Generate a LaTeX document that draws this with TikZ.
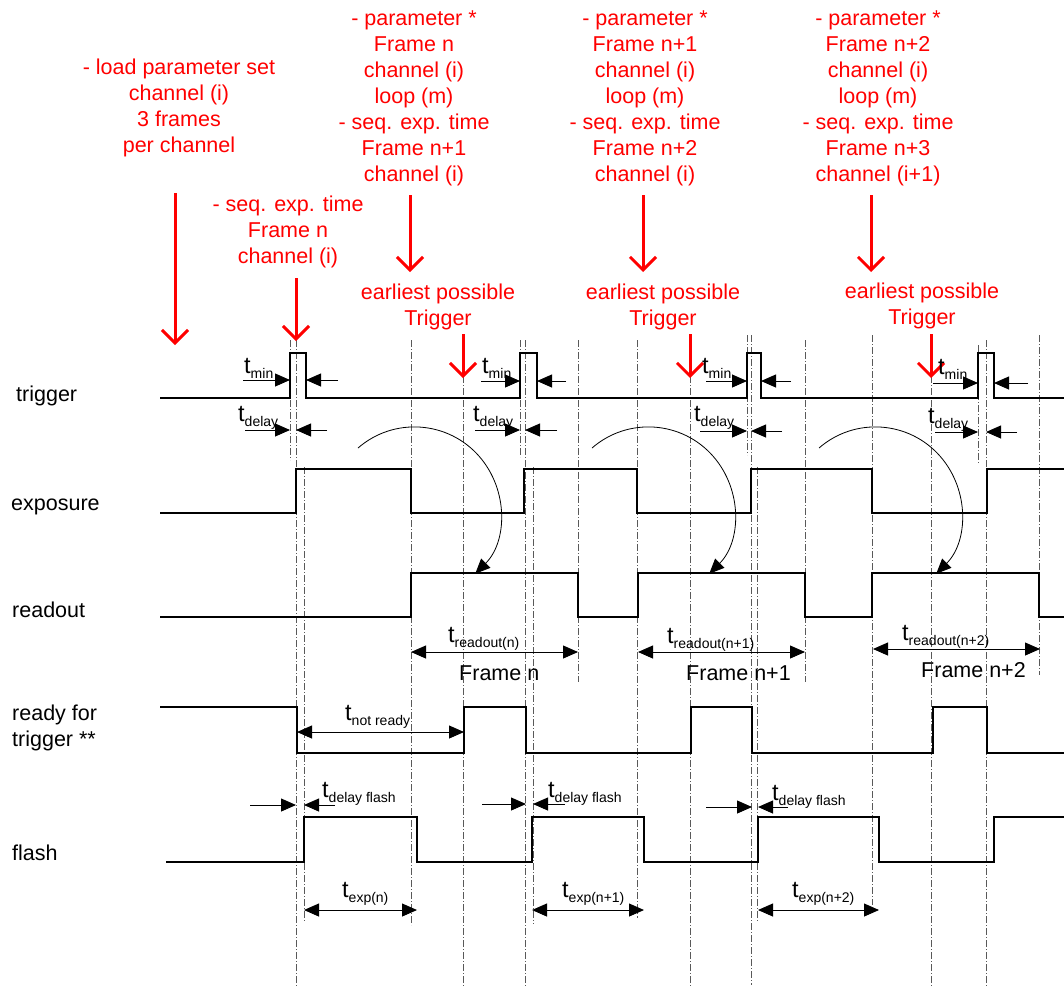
\documentclass[tikz,border=0pt]{standalone}
\usepackage{fontspec}
\setmainfont{Liberation Sans}
\usetikzlibrary{arrows.meta}
\newcommand\tlab[1]{{\fontsize{23.5}{23.5}\selectfont t}\raisebox{-5pt}{\fontsize{14}{14}\selectfont #1}}
\newcommand\rblock[1]{\begin{tabular}[t]{@{}c@{}}#1\end{tabular}}
\begin{document}
\begin{tikzpicture}[x=1pt,y=-1pt,
  sig/.style={line width=2pt, line join=miter},
  guide/.style={line width=0.7pt, black!65, dash pattern=on 7pt off 2pt on 1pt off 2pt},
  redarrow/.style={draw=red, line width=3pt, -{Straight Barb[length=13pt,width=26pt]}},
  dim/.style={line width=0.9pt, {Triangle[length=15pt,width=13pt]}-{Triangle[length=15pt,width=13pt]}},
  dimr/.style={line width=0.9pt, -{Triangle[length=15pt,width=13pt]}},
  txt/.style={font=\fontsize{21.5}{26}\selectfont, inner sep=0pt},
  rtxt/.style={txt, text=red, anchor=base},
  lab/.style={txt, anchor=base west},
  curv/.style={line width=0.8pt, -{Triangle[length=15pt,width=13pt]}}
]
\useasboundingbox (0,0) rectangle (1064,989);

% guide lines
\foreach \x/\a/\b in {290/340/460, 296/340/987, 304/467/922, 411/340/925,
  463/340/987, 520/340/457, 525/340/987, 533/467/924, 578/340/682,
  637/340/918, 690/340/987, 747/335/455, 751/335/985, 757/467/922,
  805/340/682, 872/335/905, 931/340/987, 978/345/463, 986/340/987,
  1039/335/675}
  \draw[guide] (\x,\a) -- (\x,\b);

% signals
\draw[sig] (160,398) -| (290,353) -| (306,398) -| (520,353) -| (537,398)
  -| (747,353) -| (761,398) -| (978,353) -| (994,398) -- (1064,398);
\draw[sig] (160,513) -| (296,469) -| (411,513) -| (524,469) -| (637,513)
  -| (751,469) -| (872,513) -| (987,469) -- (1064,469);
\draw[sig] (160,617) -| (411,573) -| (578,617) -| (638,573) -| (805,617)
  -| (872,573) -| (1039,617) -- (1064,617);
\draw[sig] (160,707) -| (297,753) -| (464,707) -| (526,753) -| (691,707)
  -| (752,753) -| (933,707) -| (987,753) -- (1064,753);
\draw[sig] (166,862) -| (304,817) -| (417,862) -| (532,817) -| (644,862)
  -| (758,817) -| (879,862) -| (994,817) -- (1064,817);

% signal labels
\node[lab] (ltrig) at (16,401) {trigger};
\node[lab] (lexp) at (11,510) {exposure};
\node[lab] (lread) at (12,617) {readout};
\node[lab] (lready) at (12,720) {ready for};
\node[lab] (lready2) at (12,746) {trigger **};
\node[lab] (lflash) at (12,860) {flash};

% red texts and arrows
\node[rtxt] (ra) at (179,74) {\rblock{- load parameter set\\channel (i)\\3 frames\\per channel}};
\node[rtxt] (rb) at (288,211) {\rblock{- seq. exp. time\\Frame n\\channel (i)}};
\node[rtxt] (rc) at (414,25) {\rblock{- parameter *\\Frame n\\channel (i)\\loop (m)\\- seq. exp. time\\Frame n+1\\channel (i)}};
\node[rtxt] (rd) at (645,25) {\rblock{- parameter *\\Frame n+1\\channel (i)\\loop (m)\\- seq. exp. time\\Frame n+2\\channel (i)}};
\node[rtxt] (re) at (878,25) {\rblock{- parameter *\\Frame n+2\\channel (i)\\loop (m)\\- seq. exp. time\\Frame n+3\\channel (i+1)}};
\node[rtxt] (f1) at (438,299) {\rblock{earliest possible\\Trigger}};
\node[rtxt] (f2) at (663,299) {\rblock{earliest possible\\Trigger}};
\node[rtxt] (f3) at (922,298) {\rblock{earliest possible\\Trigger}};

\draw[redarrow] (175,193) -- (175,345);
\draw[redarrow] (296,278) -- (296,341);
\draw[redarrow] (410,195) -- (410,272);
\draw[redarrow] (463,334) -- (463,378);
\draw[redarrow] (643,195) -- (643,272);
\draw[redarrow] (690,334) -- (690,378);
\draw[redarrow] (871,195) -- (871,272);
\draw[redarrow] (931,334) -- (931,378);

% t_min / t_delay
\node[lab] (tm1) at (244,373) {\tlab{min}};
\node[lab] (td1) at (238,421) {\tlab{delay}};
\draw[dimr] (243,380) -- (290,380);
\draw[dimr] (338,380) -- (306,380);
\draw[dimr] (245,430) -- (290,430);
\draw[dimr] (327,430) -- (296,430);

\node[lab] (tm2) at (482,373) {\tlab{min}};
\node[lab] (td2) at (473,421) {\tlab{delay}};
\draw[dimr] (481,381) -- (520,381);
\draw[dimr] (566,381) -- (537,381);
\draw[dimr] (475,430) -- (520,430);
\draw[dimr] (557,430) -- (525,430);

\node[lab] (tm3) at (702,373) {\tlab{min}};
\node[lab] (td3) at (694,421) {\tlab{delay}};
\draw[dimr] (706,381) -- (747,381);
\draw[dimr] (791,381) -- (761,381);
\draw[dimr] (700,431) -- (747,431);
\draw[dimr] (782,431) -- (751,431);

\node[lab] (tm4) at (938,374) {\tlab{min}};
\node[lab] (td4) at (928,423) {\tlab{delay}};
\draw[dimr] (933,383) -- (978,383);
\draw[dimr] (1028,383) -- (994,383);
\draw[dimr] (935,432) -- (978,432);
\draw[dimr] (1017,432) -- (986,432);

% curved arrows
\draw[curv] (358,448) arc[start angle=-131, end angle=45, radius=86];
\draw[curv] (592,448) arc[start angle=-131, end angle=45, radius=86];
\draw[curv] (819,448) arc[start angle=-131, end angle=45, radius=86];

% readout
\node[lab] (tr1) at (448,642) {\tlab{readout(n)}};
\draw[dim] (411,652) -- (578,652);
\node[lab] (fr1) at (459,680) {Frame n};
\node[lab] (tr2) at (667,643) {\tlab{readout(n+1)}};
\draw[dim] (638,652) -- (805,652);
\node[lab] (fr2) at (686,680) {Frame n+1};
\node[lab] (tr3) at (902,640) {\tlab{readout(n+2)}};
\draw[dim] (873,649) -- (1040,649);
\node[lab] (fr3) at (921,677) {Frame n+2};

% not ready
\node[lab] (tnr) at (345,720) {\tlab{not ready}};
\draw[dim] (297,732) -- (464,732);

% delay flash
\node[lab] (tf1) at (322,797) {\tlab{delay flash}};
\draw[dimr] (250,805) -- (296,805);
\draw[dimr] (335,805) -- (304,805);
\node[lab] (tf2) at (548,797) {\tlab{delay flash}};
\draw[dimr] (482,804) -- (526,804);
\draw[dimr] (565,804) -- (533,804);
\node[lab] (tf3) at (772,800) {\tlab{delay flash}};
\draw[dimr] (706,807) -- (752,807);
\draw[dimr] (788,807) -- (758,807);

% exposure times
\node[lab] (te1) at (342,897) {\tlab{exp(n)}};
\draw[dim] (304,910) -- (417,910);
\node[lab] (te2) at (562,897) {\tlab{exp(n+1)}};
\draw[dim] (532,910) -- (644,910);
\node[lab] (te3) at (792,897) {\tlab{exp(n+2)}};
\draw[dim] (758,910) -- (879,910);
\end{tikzpicture}
\end{document}
